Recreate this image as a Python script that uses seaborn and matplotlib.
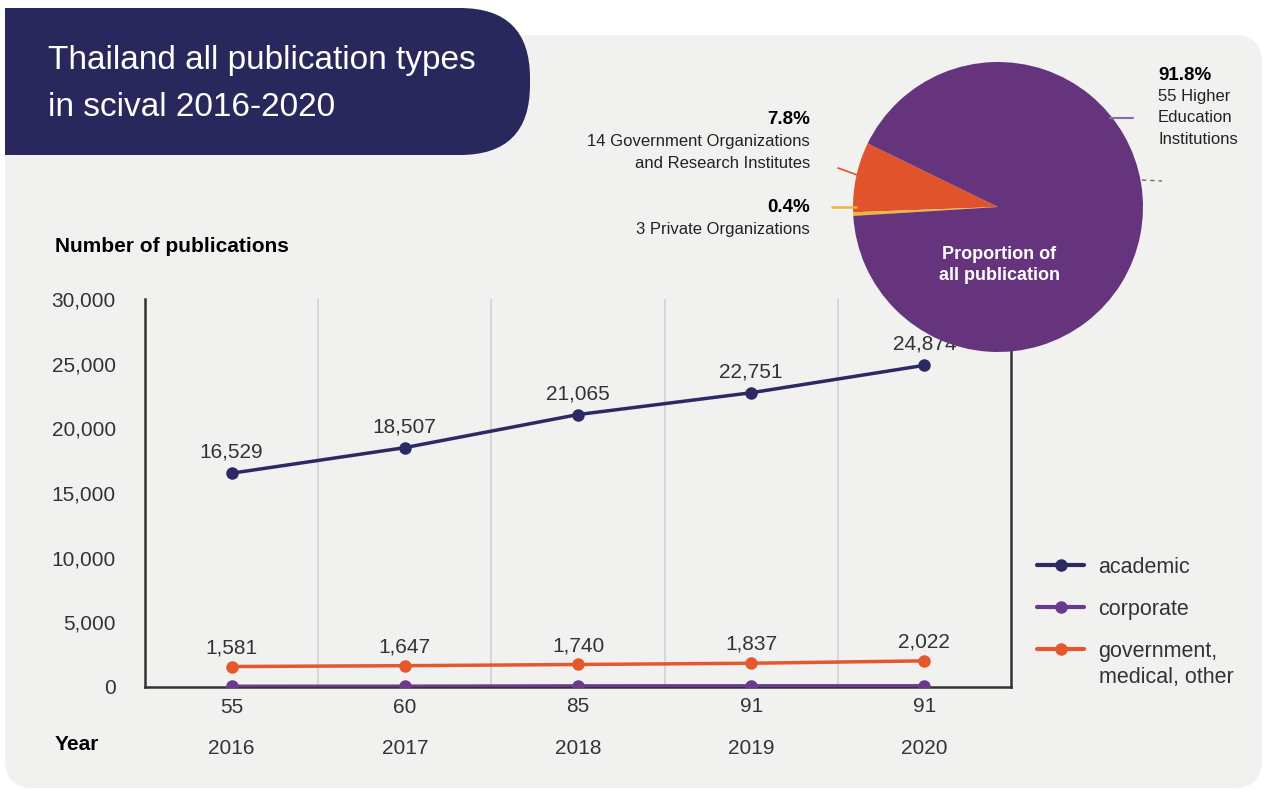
import numpy as np
import pandas as pd
import matplotlib
matplotlib.use("Agg")
import matplotlib.pyplot as plt
import seaborn as sns
from matplotlib.patches import FancyBboxPatch, Rectangle
from matplotlib.transforms import Affine2D
from matplotlib.lines import Line2D

# ---- data -------------------------------------------------------------
years = [2016, 2017, 2018, 2019, 2020]
academic = [16529, 18507, 21065, 22751, 24874]
corporate = [55, 60, 85, 91, 91]
government = [1581, 1647, 1740, 1837, 2022]
series_names = ["academic", "corporate", "government,\nmedical, other"]
series_colors = ["#2b2a63", "#6b3a8e", "#e5572d"]
y_ticks = [0, 5000, 10000, 15000, 20000, 25000, 30000]

pie_shares = [7.8, 0.4, 91.8]
pie_pct = ["7.8%", "0.4%", "91.8%"]
pie_groups = [["14 Government Organizations", "and Research Institutes"],
              ["3 Private Organizations"],
              ["55 Higher", "Education", "Institutions"]]
pie_colors = ["#e0532b", "#f0b440", "#65347d"]

title_lines = ["Thailand all publication types", "in scival 2016-2020"]

# ---- style ------------------------------------------------------------
sns.set_theme(style="white")
plt.rcParams["font.family"] = ["Liberation Sans", "DejaVu Sans"]
TXT = "#333333"

W, H = 1263, 790
fig = plt.figure(figsize=(W / 100, H / 100), dpi=100)
fig.patch.set_facecolor("white")
px = Affine2D().scale(1 / 100) + fig.dpi_scale_trans  # pixel coords, origin bottom-left


def yb(y_img):
    return H - y_img


# background panel and title banner
fig.add_artist(FancyBboxPatch((5, yb(788)), 1257, 753,
                              boxstyle="round,pad=0,rounding_size=28",
                              transform=px, facecolor="#f1f1ef", edgecolor="none", zorder=-10))
fig.add_artist(FancyBboxPatch((5, yb(155)), 525, 147,
                              boxstyle="round,pad=0,rounding_size=70",
                              transform=px, facecolor="#29285d", edgecolor="none", zorder=-5))
fig.add_artist(Rectangle((5, yb(155)), 200, 147, transform=px,
                         facecolor="#29285d", edgecolor="none", zorder=-5))
for i, line in enumerate(title_lines):
    fig.text(48 / W, yb(60 + 47 * i) / H, line, color="white", fontsize=24,
             ha="left", va="center")

# ---- line chart -------------------------------------------------------
ax = fig.add_axes([145 / W, 103 / H, 866 / W, 388 / H])
ax.set_facecolor("none")

df = pd.DataFrame({
    "year": years * 3,
    "value": academic + corporate + government,
    "series": [series_names[0]] * 5 + [series_names[1]] * 5 + [series_names[2]] * 5,
})
palette = dict(zip(series_names, series_colors))
for y in [2016.5, 2017.5, 2018.5, 2019.5]:
    ax.axvline(y, color="#cfcfcf", lw=1.1, zorder=0)
sns.lineplot(data=df, x="year", y="value", hue="series", palette=palette,
             hue_order=[series_names[1], series_names[2], series_names[0]],
             marker="o", markersize=9, markeredgewidth=0, linewidth=2.5,
             legend=False, ax=ax, zorder=3)

ax.set_xlim(2015.5, 2020.5)
ax.set_ylim(0, 30000)
ax.set_yticks(y_ticks)
ax.set_yticklabels([f"{v:,}" for v in y_ticks])
ax.set_xticks(years)
ax.set_xticklabels([str(y) for y in years])
ax.tick_params(axis="y", length=0, pad=21, labelsize=15, labelcolor=TXT)
ax.tick_params(axis="x", length=0, pad=37.5, labelsize=15, labelcolor=TXT)
ax.set_xlabel("")
ax.set_ylabel("")
for side in ["left", "bottom", "right"]:
    ax.spines[side].set_visible(True)
    ax.spines[side].set_color("#333333")
    ax.spines[side].set_linewidth(1.8)
ax.spines["top"].set_visible(False)

for x, v in zip(years, academic):
    ax.annotate(f"{v:,}", (x, v), xytext=(0, 15), textcoords="offset points",
                ha="center", va="center", fontsize=15, color=TXT)
for x, v in zip(years, government):
    ax.annotate(f"{v:,}", (x, v), xytext=(0, 13.5), textcoords="offset points",
                ha="center", va="center", fontsize=15, color=TXT)
for x, v in zip(years, corporate):
    ax.annotate(f"{v:,}", (x, v), xytext=(0, -15), textcoords="offset points",
                ha="center", va="center", fontsize=15, color=TXT)

fig.text(55 / W, yb(246) / H, "Number of publications", fontsize=15,
         fontweight="bold", color="black", ha="left", va="center")
fig.text(55 / W, yb(745) / H, "Year", fontsize=15, fontweight="bold",
         color="black", ha="left", va="center")

# legend: one line per entry, the wrapped part of the last label set underneath
first_lines = [n.split("\n")[0] for n in series_names]
handles = [Line2D([0], [0], color=c, lw=3, marker="o", markersize=9,
                  markeredgewidth=0) for c in series_colors]
leg = fig.legend(handles, first_lines, loc="upper left",
                 bbox_to_anchor=(1037, yb(557)), bbox_transform=px,
                 frameon=False, borderpad=0, borderaxespad=0, fontsize=15.5,
                 handlelength=2.2, handletextpad=0.65, labelspacing=0.97,
                 labelcolor=TXT)
fig.text(1099 / W, yb(677) / H, series_names[2].split("\n")[1], fontsize=15.5,
         color=TXT, ha="left", va="center")

# ---- pie --------------------------------------------------------------
pax = fig.add_axes([853 / W, yb(352) / H, 290 / W, 290 / H])
pax.pie(pie_shares, colors=pie_colors, startangle=154, counterclock=True,
        radius=1, wedgeprops=dict(linewidth=0))
pax.set_xlim(-1, 1)
pax.set_ylim(-1, 1)
pax.set_aspect("equal")
pax.axis("off")
pax.text(0.01, -0.4, "Proportion of\nall publication", color="white",
         fontsize=13, fontweight="bold", ha="center", va="center",
         linespacing=1.3)

# leader lines
fig.add_artist(Line2D([838, 860], [yb(168), yb(176)], transform=px,
                      color=pie_colors[0], lw=1.2))
fig.add_artist(Line2D([832, 856], [yb(207), yb(207)], transform=px,
                      color=pie_colors[1], lw=1.8))
fig.add_artist(Line2D([1110, 1133], [yb(118), yb(118)], transform=px,
                      color="#8e6aa8", lw=1.5))
fig.add_artist(Line2D([1142, 1162], [yb(180), yb(181)], transform=px,
                      color="#666666", lw=1, ls=(0, (3, 3))))

# pie labels
label_spots = [(810, 120, "right"), (810, 208, "right"), (1158, 75, "left")]
for (x, y, ha), pct, lines in zip(label_spots, pie_pct, pie_groups):
    fig.text(x / W, yb(y) / H, pct, fontsize=13.5, fontweight="bold",
             color="black", ha=ha, va="center")
    for j, ln in enumerate(lines):
        fig.text(x / W, yb(y + 21.5 * (j + 1)) / H, ln, fontsize=12,
                 color="#222222", ha=ha, va="center")

fig.savefig("out.png", dpi=100)
